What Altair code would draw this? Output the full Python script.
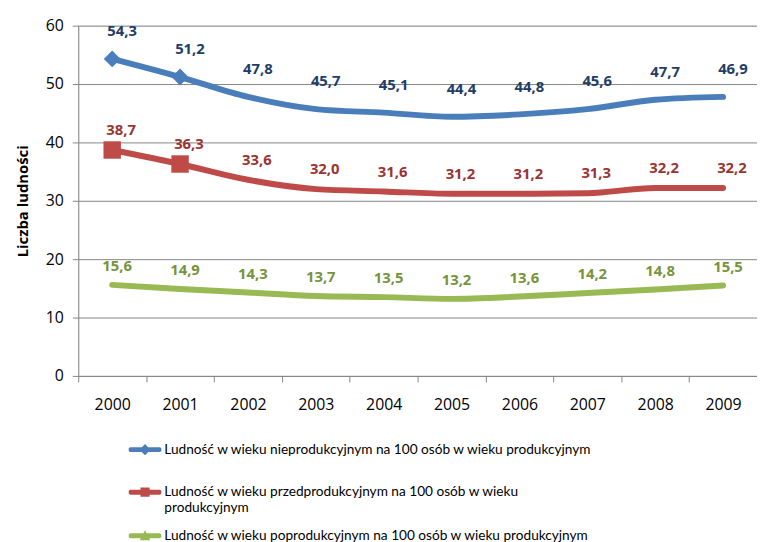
import altair as alt
import pandas as pd

years = ["2000", "2001", "2002", "2003", "2004", "2005", "2006", "2007", "2008", "2009"]

series = [
    "Ludność w wieku nieprodukcyjnym na 100 osób w wieku produkcyjnym",
    "Ludność w wieku przedprodukcyjnym na 100 osób w wieku produkcyjnym",
    "Ludność w wieku poprodukcyjnym na 100 osób w wieku produkcyjnym",
]

# values as drawn by the lines
nieprodukcyjny = [54.3, 51.2, 47.8, 45.7, 45.1, 44.4, 44.8, 45.7, 47.3, 47.8]
przedprodukcyjny = [38.7, 36.3, 33.6, 32.0, 31.6, 31.2, 31.2, 31.3, 32.2, 32.2]
poprodukcyjny = [15.6, 14.9, 14.3, 13.7, 13.5, 13.2, 13.6, 14.2, 14.8, 15.5]

# data labels as printed on the chart
nieprodukcyjny_labels = ["54,3", "51,2", "47,8", "45,7", "45,1", "44,4", "44,8", "45,6", "47,7", "46,9"]
przedprodukcyjny_labels = ["38,7", "36,3", "33,6", "32,0", "31,6", "31,2", "31,2", "31,3", "32,2", "32,2"]
poprodukcyjny_labels = ["15,6", "14,9", "14,3", "13,7", "13,5", "13,2", "13,6", "14,2", "14,8", "15,5"]

marker_years = ["2000", "2001"]

line_colors = ["#4A7EBB", "#BE4B48", "#98B954"]
label_colors = ["#1F3D66", "#9A3432", "#77933C"]

# legend symbols: line with marker in the middle (custom paths in -1..1 box)
flat_line = "M-0.92,-0.15L0.92,-0.15L1,-0.08L1,0.08L0.92,0.15L-0.92,0.15L-1,0.08L-1,-0.08Z"
legend_paths = [
    flat_line + "M0,-0.34L0.34,0L0,0.34L-0.34,0Z",
    flat_line + "M-0.28,-0.28L0.28,-0.28L0.28,0.28L-0.28,0.28Z",
    flat_line + "M0,-0.34L0.32,0.28L-0.32,0.28Z",
]

rows = []
for name, vals, labs in [
    (series[0], nieprodukcyjny, nieprodukcyjny_labels),
    (series[1], przedprodukcyjny, przedprodukcyjny_labels),
    (series[2], poprodukcyjny, poprodukcyjny_labels),
]:
    for yr, v, lab in zip(years, vals, labs):
        rows.append({"year": yr, "series": name, "value": v, "label": lab})
df = pd.DataFrame(rows)

FONT = "Open Sans"
LEGEND_FONT = "Lato"
GRAY = "#868686"

x_enc = alt.X(
    "year:O",
    scale=alt.Scale(type="band", domain=years, paddingInner=0, paddingOuter=0),
    axis=alt.Axis(
        title=None, labelAngle=0, tickBand="extent", tickSize=6,
        labelPadding=15, labelFont=FONT, labelFontSize=16, labelColor="#000000",
        domainColor=GRAY, tickColor=GRAY, grid=False,
    ),
)
y_enc = alt.Y(
    "value:Q",
    scale=alt.Scale(domain=[0, 60], nice=False),
    axis=alt.Axis(
        values=[0, 10, 20, 30, 40, 50, 60], title="Liczba ludności",
        titleFont=FONT, titleFontSize=15, titleFontWeight="bold", titleColor="#000000",
        titlePadding=15, labelFont=FONT, labelFontSize=16, labelColor="#000000",
        labelPadding=9, tickSize=6, domainColor=GRAY, tickColor=GRAY,
        gridColor=GRAY, gridWidth=1,
    ),
)
color_noleg = alt.Color("series:N", scale=alt.Scale(domain=series, range=line_colors), legend=None)

base = alt.Chart(df)

lines = base.mark_line(strokeWidth=6, interpolate="monotone", strokeCap="round", strokeJoin="round").encode(
    x=x_enc, y=y_enc, color=color_noleg
)

markers_blue = base.transform_filter(
    alt.FieldEqualPredicate(field="series", equal=series[0])
).transform_filter(
    alt.FieldOneOfPredicate(field="year", oneOf=marker_years)
).mark_point(shape="diamond", filled=True, size=290, opacity=1).encode(x=x_enc, y=y_enc, color=color_noleg)

markers_red = base.transform_filter(
    alt.FieldEqualPredicate(field="series", equal=series[1])
).transform_filter(
    alt.FieldOneOfPredicate(field="year", oneOf=marker_years)
).mark_point(shape="square", filled=True, size=310, opacity=1).encode(x=x_enc, y=y_enc, color=color_noleg)


def label_layer(idx, dx, dy):
    return base.transform_filter(
        alt.FieldEqualPredicate(field="series", equal=series[idx])
    ).mark_text(
        font=FONT, fontSize=15, fontWeight="bold", dx=dx, dy=dy, color=label_colors[idx]
    ).encode(x=x_enc, y=y_enc, text="label:N")


texts_blue = label_layer(0, 10, -28)
texts_red = label_layer(1, 9, -20)
texts_green = label_layer(2, 5, -19)


def legend_props(legend_y, row_padding):
    return dict(
        title=None, orient="none", legendX=51, legendY=legend_y, direction="vertical",
        symbolSize=1089, symbolStrokeWidth=0, labelFont=LEGEND_FONT, labelFontSize=13.8,
        labelColor="#000000", labelOffset=3, labelLimit=700, rowPadding=row_padding, padding=0,
        symbolOpacity=1,
        labelExpr="indexof(datum.label, 'przedprodukcyjnym') > 0 ? [substring(datum.label, 0, 53), substring(datum.label, 54)] : datum.label",
    )


def legend_layer(idxs, legend_y, row_padding):
    names = [series[i] for i in idxs]
    props = legend_props(legend_y, row_padding)
    return base.transform_filter(
        alt.FieldOneOfPredicate(field="series", oneOf=names)
    ).mark_point(filled=True, opacity=0).encode(
        fill=alt.Fill("series:N", scale=alt.Scale(domain=names, range=[line_colors[i] for i in idxs]),
                      legend=alt.Legend(**props)),
        shape=alt.Shape("series:N", scale=alt.Scale(domain=names, range=[legend_paths[i] for i in idxs]),
                        legend=alt.Legend(**props)),
        x=x_enc, y=y_enc,
    )


legend_top = legend_layer([0, 1], 412, 19)
legend_bottom = legend_layer([2], 499, 0)

chart = alt.layer(
    legend_top, legend_bottom, lines, markers_blue, markers_red, texts_blue, texts_red, texts_green
).resolve_scale(fill="independent", shape="independent").properties(
    width=686, height=354,
    autosize=alt.AutoSizeParams(type="none"),
    padding={"left": 71, "top": 15, "right": 0, "bottom": 165},
).configure_view(stroke=None).configure(background="#ffffff")

chart.save("out.html", embed_options={"renderer": "svg", "actions": False})
